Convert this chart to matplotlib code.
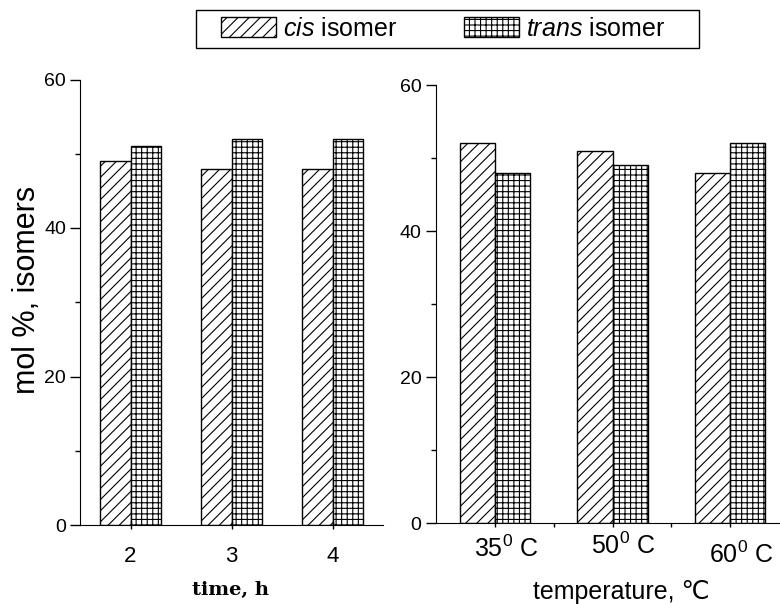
import matplotlib
matplotlib.use("Agg")
import matplotlib.pyplot as plt
from matplotlib.patches import Rectangle
from matplotlib.ticker import MultipleLocator, FixedLocator

plt.rcParams['font.family'] = ['Liberation Sans', 'DejaVu Sans']
plt.rcParams['mathtext.fontset'] = 'custom'
plt.rcParams['mathtext.rm'] = 'Liberation Sans'
plt.rcParams['mathtext.it'] = 'Liberation Sans:italic'
plt.rcParams['hatch.linewidth'] = 0.8

# ---- data ----
time_h = [2, 3, 4]
time_cis = [49, 48, 48]
time_trans = [51, 52, 52]

temp_labels = ['35$^0$ C', '50$^0$ C', '60$^0$ C']
temp_cis = [52, 51, 48]
temp_trans = [48, 49, 52]

series_labels = ['$\\mathit{cis}$ isomer', '$\\mathit{trans}$ isomer']
y_ticks = [0, 20, 40, 60]

W, H = 780, 604
fig = plt.figure(figsize=(W / 100, H / 100), dpi=100)

bw = 0.3
bar_kw = dict(color='white', edgecolor='black', linewidth=1.0)

# ---- left panel ----
ax1 = fig.add_axes([80 / W, 79 / H, 303 / W, 445.5 / H])
b1 = ax1.bar([t - bw / 2 for t in time_h], time_cis, bw, hatch='///', **bar_kw)
b2 = ax1.bar([t + bw / 2 for t in time_h], time_trans, bw, hatch='+++', **bar_kw)
ax1.set_xlim(1.5, 4.5)
ax1.set_ylim(0, 60)
ax1.set_xticks(time_h)
ax1.set_xticklabels([str(t) for t in time_h], fontsize=16)
ax1.set_yticks(y_ticks)
ax1.yaxis.set_minor_locator(MultipleLocator(10))
ax1.tick_params(axis='y', which='major', direction='out', length=7, width=1, labelsize=14, pad=3)
ax1.tick_params(axis='y', which='minor', direction='out', length=3.5, width=1)
ax1.tick_params(axis='x', which='major', direction='inout', length=6, width=1, pad=12)
for s in ['top', 'right']:
    ax1.spines[s].set_visible(False)

# ---- right panel ----
ax2 = fig.add_axes([436 / W, 80.7 / H, 353 / W, 438.3 / H])
xpos = list(range(1, len(temp_labels) + 1))
ax2.bar([x - bw / 2 for x in xpos], temp_cis, bw, hatch='///', **bar_kw)
ax2.bar([x + bw / 2 for x in xpos], temp_trans, bw, hatch='+++', **bar_kw)
ax2.set_xlim(0.5, 3.5)
ax2.set_ylim(0, 60)
ax2.set_xticks(xpos)
ax2.set_xticklabels([])
ax2.xaxis.set_minor_locator(FixedLocator([1.5, 2.5]))
ax2.set_yticks(y_ticks)
ax2.yaxis.set_minor_locator(MultipleLocator(10))
ax2.tick_params(axis='y', which='major', direction='out', length=7, width=1, labelsize=14, pad=3.5)
ax2.tick_params(axis='y', which='minor', direction='out', length=3.5, width=1)
ax2.tick_params(axis='x', which='major', direction='inout', length=6, width=1)
ax2.tick_params(axis='x', which='minor', direction='out', length=3, width=1)
for s in ['top', 'right']:
    ax2.spines[s].set_visible(False)

label_dy = [-34, -31, -40]
for x, lab, dy in zip(xpos, temp_labels, label_dy):
    ax2.annotate(lab, xy=(x, 0), xycoords='data', xytext=(11, dy),
                 textcoords='offset pixels', ha='center', va='baseline',
                 fontsize=18, annotation_clip=False)

# ---- axis titles ----
fig.text(27 / W, 1 - 290 / H, 'mol %, isomers', rotation=90, fontsize=22,
         ha='center', va='center')
fig.text(231 / W, 1 - 595 / H, 'time, h', family='DejaVu Serif', weight='bold',
         fontsize=14, ha='center', va='baseline')
fig.text(621.7 / W, 1 - 599 / H, 'temperature, \u2103', fontsize=18,
         ha='center', va='baseline')

# ---- legend ----
fig.patches.append(Rectangle((196 / W, 1 - 47.7 / H), 503 / W, 37.7 / H,
                             transform=fig.transFigure, fill=False,
                             edgecolor='black', linewidth=1.0))
fig.legend([b1, b2], series_labels, loc='center left',
           bbox_to_anchor=(220.7 / W, 1 - 28.8 / H), ncol=2, frameon=False,
           fontsize=18, handlelength=2.2, handleheight=0.84, handletextpad=0.28,
           columnspacing=2.7, borderpad=0, borderaxespad=0)

fig.savefig('out.png', dpi=100)
